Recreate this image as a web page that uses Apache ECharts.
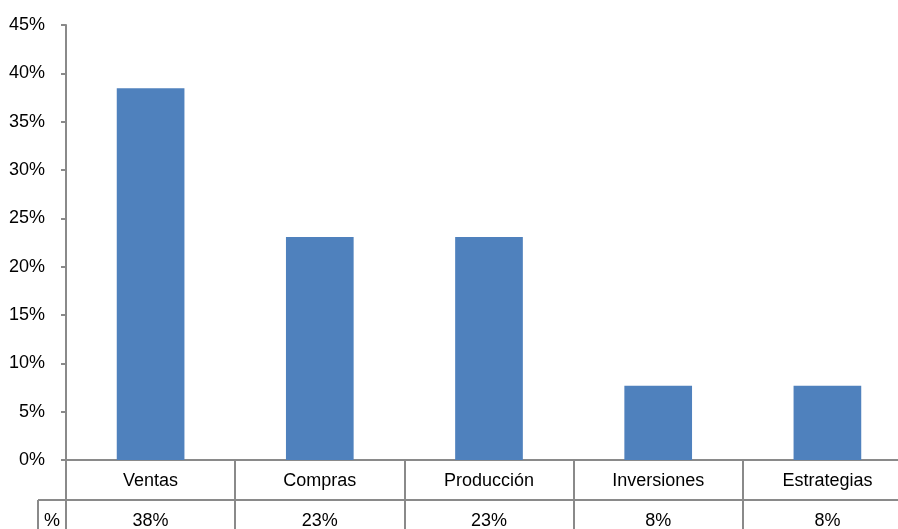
<!DOCTYPE html>
<html>
<head>
<meta charset="utf-8">
<script src="https://cdn.jsdelivr.net/npm/echarts@6/dist/echarts.min.js"></script>
<style>
  html, body { margin: 0; padding: 0; background: #fff; }
  #chart { width: 898px; height: 529px; }
</style>
</head>
<body>
<div id="chart"></div>
<script>
// Share of each area (percent)
const categories = ['Ventas', 'Compras', 'Producción', 'Inversiones', 'Estrategias'];
const shares = [38.46, 23.08, 23.08, 7.69, 7.69];
const tableRowLabel = '%';

const FONT = "'Liberation Sans', Arial, sans-serif";
const FONT_SIZE = 18;
const LINE = '#8a8a8a';
// the plot runs past the right edge of the page, so the last column is cut off
const GRID = { left: 66, top: 25, width: 846, bottom: 69 };
const ROW_H = 40;

const chart = echarts.init(document.getElementById('chart'), null, { renderer: 'canvas' });

const textStyle = { fontFamily: FONT, fontSize: FONT_SIZE, color: '#000' };

chart.setOption({
  animation: false,
  backgroundColor: '#fff',
  grid: Object.assign({ outerBoundsMode: 'none', containLabel: false }, GRID),
  textStyle: { fontFamily: FONT },
  xAxis: [
    {
      // first table row: category names
      type: 'category',
      data: categories,
      position: 'bottom',
      axisLine: { show: true, lineStyle: { color: LINE, width: 2 } },
      axisTick: { show: true, length: ROW_H, interval: 0, lineStyle: { color: LINE, width: 2 } },
      axisLabel: Object.assign({ margin: 12, interval: 0, lineHeight: 18 }, textStyle),
      splitLine: { show: false }
    },
    {
      // second table row: rounded values
      type: 'category',
      data: categories,
      position: 'bottom',
      offset: ROW_H,
      axisLine: { show: true, lineStyle: { color: LINE, width: 2 } },
      axisTick: { show: true, length: ROW_H, interval: 0, lineStyle: { color: LINE, width: 2 } },
      axisLabel: Object.assign({
        margin: 12, interval: 0, lineHeight: 18,
        formatter: (v, i) => Math.round(shares[i]) + '%'
      }, textStyle),
      splitLine: { show: false }
    }
  ],
  yAxis: {
    type: 'value',
    min: 0,
    max: 45,
    interval: 5,
    axisLine: { show: true, lineStyle: { color: LINE, width: 2 } },
    axisTick: { show: true, length: 5, lineStyle: { color: LINE, width: 2 } },
    axisLabel: Object.assign({ margin: 21, formatter: '{value}%' }, textStyle),
    splitLine: { show: false }
  },
  series: [{
    type: 'bar',
    data: shares,
    xAxisIndex: 0,
    barWidth: '40%',
    itemStyle: { color: '#4F81BD' }
  }]
});

// Row header cell for the value row, to the left of the table
const tableTop = 529 - GRID.bottom + ROW_H;
const cellLeft = GRID.left - 28;
chart.setOption({
  graphic: [
    { type: 'line', shape: { x1: cellLeft, y1: tableTop, x2: GRID.left, y2: tableTop },
      style: { stroke: LINE, lineWidth: 2 } },
    { type: 'line', shape: { x1: cellLeft, y1: tableTop, x2: cellLeft, y2: tableTop + ROW_H },
      style: { stroke: LINE, lineWidth: 2 } },
    { type: 'text', x: (cellLeft + GRID.left) / 2, y: tableTop + 21,
      style: { text: tableRowLabel, font: FONT_SIZE + 'px ' + FONT, fill: '#000', align: 'center', verticalAlign: 'middle' } }
  ]
});
</script>
</body>
</html>
